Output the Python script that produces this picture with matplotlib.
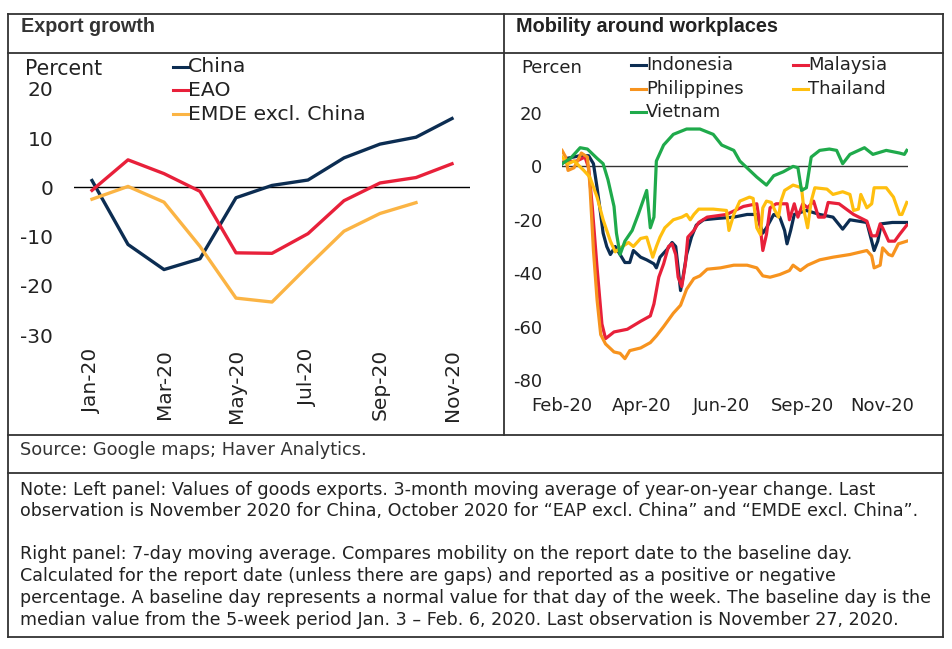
import pandas as pd
import numpy as np
import matplotlib
matplotlib.use('Agg')
import matplotlib.pyplot as plt
from matplotlib.lines import Line2D

# ---- left panel: export growth, 3m avg y/y, percent ----
months = ['Jan-20', 'Feb-20', 'Mar-20', 'Apr-20', 'May-20', 'Jun-20',
          'Jul-20', 'Aug-20', 'Sep-20', 'Oct-20', 'Nov-20']
china = [1.4, -11.6, -16.7, -14.5, -2.1, 0.4, 1.5, 6.0, 8.8, 10.2, 14.0]
eao = [-0.6, 5.6, 2.8, -0.8, -13.3, -13.4, -9.4, -2.7, 0.9, 2.0, 4.8]
emde = [-2.4, 0.2, -3.0, -12.0, -22.5, -23.3, -16.0, -8.9, -5.3, -3.1]
left_ticks = ['Jan-20', 'Mar-20', 'May-20', 'Jul-20', 'Sep-20', 'Nov-20']

# ---- right panel: mobility around workplaces (days since 15 Feb 2020) ----
start_date = '2020-02-15'
end_day = 286

idn_day = [0, 4, 15, 22, 26, 29, 32, 34, 37, 40, 44, 48, 52, 56, 59, 65, 70, 76, 78,
           81, 87, 91, 94, 96, 98, 100, 103, 107, 111, 117, 128, 142, 153, 161, 166,
           169, 175, 180, 184, 186, 189, 192, 202, 213, 224, 232, 238, 252, 256, 258,
           261, 264, 273, 285]
idn_val = [1, 3, 4, 4, 1, -8, -18, -25, -30, -33, -30, -33, -36, -36, -31.5, -34, -35,
           -36.5, -38, -34, -31, -28.5, -30, -38, -46.5, -41.5, -33, -26.5, -22, -20,
           -19.5, -19, -18, -18, -25, -23, -18, -19, -24, -29, -24, -18, -16.5, -18,
           -19, -23.5, -20, -21, -28, -31.5, -28, -21.5, -21, -21]

mys_day = [0, 12, 19, 22, 25, 29, 33, 36, 43, 54, 65, 73, 76, 80, 84, 88, 91, 94, 96,
           99, 102, 104, 109, 113, 120, 136, 150, 161, 164, 166, 169, 172, 177, 186,
           188, 192, 195, 199, 203, 208, 212, 217, 220, 229, 241, 252, 256, 260, 263,
           265, 270, 275, 279, 285]
mys_val = [1.5, 2, 3.5, -0.5, -15, -38, -59, -64.5, -62, -61, -58, -56, -51.5, -41.5,
           -36.5, -30, -29, -33, -41.5, -45, -36.5, -26.5, -24, -21, -19, -18, -15, -14,
           -23, -31.5, -25.5, -15.5, -14, -14, -20, -14, -19, -14, -15.5, -13, -19, -19,
           -13.5, -14, -18, -20.5, -26, -26, -21.5, -23, -28, -28, -25.5, -22]

phl_day = [0, 3, 5, 10, 16, 21, 23, 26, 29, 32, 36, 43, 48, 52, 56, 65, 73, 78, 84, 92,
           98, 103, 109, 114, 120, 131, 142, 153, 161, 166, 172, 180, 188, 191, 197,
           203, 213, 224, 238, 252, 256, 258, 263, 265, 270, 273, 278, 285]
phl_val = [6, 3.5, -1.5, -0.5, 5, 3.5, -6.5, -31.5, -50, -63, -66.5, -69.5, -70, -72,
           -69, -68, -66, -63.5, -60, -55, -52, -46, -42, -41, -38.5, -38, -37, -37, -38,
           -41, -41.5, -40.5, -39, -37, -39, -37, -35, -34, -33, -31.5, -33.5, -38, -37,
           -30.5, -33, -33.5, -29, -28]

tha_day = [0, 5, 10, 18, 23, 29, 34, 40, 44, 50, 55, 59, 65, 70, 75, 78, 81, 85, 92, 99,
           103, 106, 109, 113, 125, 136, 138, 142, 147, 155, 158, 161, 164, 166, 169,
           173, 176, 179, 181, 184, 191, 198, 200, 203, 206, 209, 219, 224, 232, 238,
           241, 245, 247, 252, 256, 258, 268, 274, 279, 281, 285]
tha_val = [3.5, 1, 2, -1.5, -4, -11.5, -20, -28, -32, -30, -28.5, -30, -27, -26.5, -34,
           -30, -26.5, -23, -20, -19, -18, -20, -18, -16, -16, -16.5, -24, -18, -13,
           -11.5, -12, -23, -25.5, -15.5, -13, -13.5, -16.5, -19, -13, -9, -7, -8, -16.5,
           -23, -13, -8, -8.5, -10.5, -9.5, -10.5, -16.5, -16, -10.5, -15.5, -14, -8, -8,
           -11.5, -18, -18, -13.5]

vnm_day = [0, 7, 15, 21, 29, 34, 38, 43, 45, 48, 52, 58, 63, 70, 73, 76, 78, 84, 92,
           103, 114, 125, 132, 142, 147, 154, 161, 169, 175, 183, 191, 195, 198, 202,
           206, 213, 221, 227, 232, 238, 250, 257, 268, 279, 283, 285]
vnm_val = [1, 3, 7, 6.5, 3, 1, -5, -15, -25, -33, -28, -24, -18, -9, -23, -19, 2, 8, 12,
           14, 14, 12, 8, 6, 2, -1, -4, -7, -3.5, -2, 0, -0.5, -9, -8, 3.5, 6, 6.5, 6, 1,
           4.5, 7, 4.5, 6, 5, 4.5, 6]

right_ticks = ['2020-02-15', '2020-04-21', '2020-06-26', '2020-09-01', '2020-11-06']

W, H = 952, 649
TXT = '#222222'
NAVY = '#0c2d52'
RED = '#e8203a'
LIGHT_ORANGE = '#fbb444'
ORANGE = '#f7931e'
YELLOW = '#ffbf0f'
GREEN = '#1faa4b'


def fx(x):
    return x / W


def fy(y):
    return 1 - y / H


def hline(fig, x0, x1, y, lw=1.3, color='#333333'):
    fig.add_artist(Line2D([fx(x0), fx(x1)], [fy(y), fy(y)], color=color, lw=lw,
                          transform=fig.transFigure))


def vline(fig, x, y0, y1, lw=1.3, color='#333333'):
    fig.add_artist(Line2D([fx(x), fx(x)], [fy(y0), fy(y1)], color=color, lw=lw,
                          transform=fig.transFigure))


def legend_item(fig, x, y, color, label, size):
    # short line handle then label, positioned in pixels
    fig.add_artist(Line2D([fx(x), fx(x + 15)], [fy(y), fy(y)], color=color, lw=2.2,
                          transform=fig.transFigure))
    fig.text(fx(x + 15), fy(y), label, fontsize=size, color=TXT, va='center', ha='left')


def style_axis(ax, size, pad_y, pad_x):
    for s in ax.spines.values():
        s.set_visible(False)
    ax.tick_params(axis='both', length=0, labelsize=size, labelcolor=TXT)
    ax.tick_params(axis='y', pad=pad_y)
    ax.tick_params(axis='x', pad=pad_x)
    ax.set_facecolor('none')


def main():
    plt.rcParams['font.family'] = ['DejaVu Sans']
    plt.rcParams['axes.unicode_minus'] = False
    fig = plt.figure(figsize=(W / 100, H / 100), dpi=100)

    # ---------- left panel ----------
    ax1 = fig.add_axes([fx(74), fy(335), fx(470) - fx(74), fy(89) - fy(335)])
    x = np.arange(len(months))
    ax1.axhline(0, color='black', lw=1.0, zorder=1)
    ax1.plot(x, china, color=NAVY, lw=2.4, zorder=3)
    ax1.plot(x, eao, color=RED, lw=2.4, zorder=3)
    ax1.plot(x[:len(emde)], emde, color=LIGHT_ORANGE, lw=2.4, zorder=3)
    ax1.set_xlim(-0.5, 10.5)
    ax1.set_ylim(-30, 20)
    ax1.set_yticks([20, 10, 0, -10, -20, -30])
    ax1.set_xticks([months.index(m) for m in left_ticks])
    ax1.set_xticklabels(left_ticks, rotation=90)
    style_axis(ax1, 14.5, 15, 10)

    # ---------- right panel ----------
    ax2 = fig.add_axes([fx(562), fy(380), fx(908) - fx(562), fy(113) - fy(380)])
    t0 = pd.Timestamp(start_date)
    ax2.axhline(0, color='#333333', lw=1.0, zorder=1)
    series = [(idn_day, idn_val, NAVY), (mys_day, mys_val, RED),
              (phl_day, phl_val, ORANGE), (tha_day, tha_val, YELLOW),
              (vnm_day, vnm_val, GREEN)]
    for d, v, c in series:
        ax2.plot(t0 + pd.to_timedelta(d, unit='D'), v, color=c, lw=2.3, zorder=3)
    ax2.set_xlim(t0, t0 + pd.Timedelta(days=end_day))
    ax2.set_ylim(-80, 20)
    ax2.set_yticks([20, 0, -20, -40, -60, -80])
    tick_dates = pd.to_datetime(right_ticks)
    ax2.set_xticks(tick_dates)
    ax2.set_xticklabels([d.strftime('%b-%y') for d in tick_dates])
    style_axis(ax2, 13, 14, 12)

    # ---------- text ----------
    title_font = ['Liberation Sans', 'DejaVu Sans']
    fig.text(fx(21), fy(27), 'Export growth', fontsize=14.2, fontweight='bold',
             color='#333333', va='center', family=title_font)
    fig.text(fx(516), fy(27), 'Mobility around workplaces', fontsize=14.3,
             fontweight='bold', color='#222222', va='center', family=title_font)

    fig.text(fx(25), fy(69), 'Percent', fontsize=14.8, color=TXT, va='center')
    legend_item(fig, 173, 67, NAVY, 'China', 14.7)
    legend_item(fig, 173, 90, RED, 'EAO', 14.7)
    legend_item(fig, 173, 114, LIGHT_ORANGE, 'EMDE excl. China', 14.7)

    fig.text(fx(521), fy(68), 'Percen', fontsize=13, color=TXT, va='center')
    legend_item(fig, 631, 65, NAVY, 'Indonesia', 13)
    legend_item(fig, 793, 65, RED, 'Malaysia', 13)
    legend_item(fig, 631, 89, ORANGE, 'Philippines', 13)
    legend_item(fig, 793, 89, YELLOW, 'Thailand', 13)
    legend_item(fig, 631, 112, GREEN, 'Vietnam', 13)

    fig.text(fx(20), fy(450), 'Source: Google maps; Haver Analytics.', fontsize=12.8,
             color='#333333', va='center')
    note_lines = [
        (490, 'Note: Left panel: Values of goods exports. 3-month moving average of year-on-year change. Last'),
        (511, 'observation is November 2020 for China, October 2020 for \u201cEAP excl. China\u201d and \u201cEMDE excl. China\u201d.'),
        (554, 'Right panel: 7-day moving average. Compares mobility on the report date to the baseline day.'),
        (576, 'Calculated for the report date (unless there are gaps) and reported as a positive or negative'),
        (598, 'percentage. A baseline day represents a normal value for that day of the week. The baseline day is the'),
        (620, 'median value from the 5-week period Jan. 3 \u2013 Feb. 6, 2020. Last observation is November 27, 2020.'),
    ]
    for y, line in note_lines:
        fig.text(fx(20), fy(y), line, fontsize=12.6, color=TXT, va='center')

    # ---------- table borders ----------
    L, R = 7.5, 943
    hline(fig, L, R, 14)
    hline(fig, L, R, 53)
    hline(fig, L, R, 435)
    hline(fig, L, R, 473)
    hline(fig, L, R, 637)
    vline(fig, L, 14, 637)
    vline(fig, R, 14, 637)
    vline(fig, 504, 14, 435)

    fig.savefig('out.png', dpi=100, facecolor='white')


if __name__ == '__main__':
    main()
